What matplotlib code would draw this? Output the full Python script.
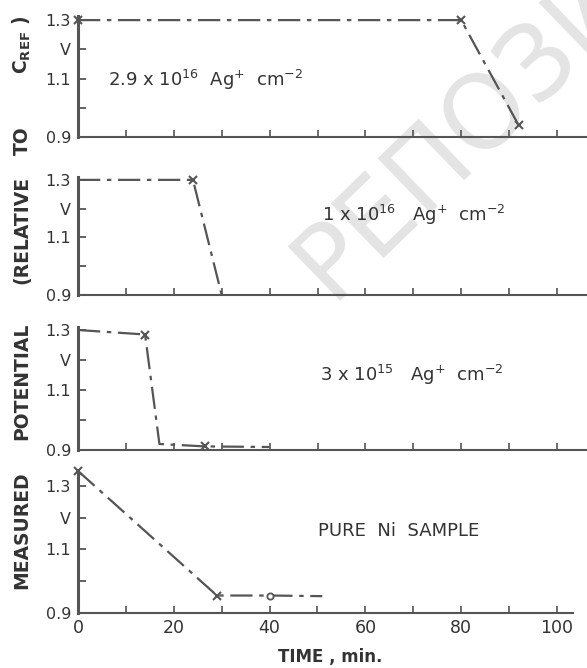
import numpy as np
import matplotlib
matplotlib.use("Agg")
import matplotlib.pyplot as plt

# --- Data ---
# time in min, potential in V
t_29e16 = [0, 80, 92]
v_29e16 = [1.30, 1.30, 0.94]
mk_29e16 = [0, 1, 2]          # indices drawn with an 'x'

t_1e16 = [0, 24, 30]
v_1e16 = [1.30, 1.30, 0.90]
mk_1e16 = [1]

t_3e15 = [0, 14, 17, 26.5, 40]
v_3e15 = [1.30, 1.285, 0.92, 0.912, 0.91]
mk_3e15 = [1, 3]

t_ni = [0, 29, 40, 51]
v_ni = [1.347, 0.955, 0.955, 0.953]
mk_ni = [0, 1]
circ_ni = [2]

labels = [r"2.9 x 10$^{16}$  Ag$^{+}$  cm$^{-2}$",
          r"1 x 10$^{16}$   Ag$^{+}$  cm$^{-2}$",
          r"3 x 10$^{15}$   Ag$^{+}$  cm$^{-2}$",
          "PURE  Ni  SAMPLE"]

xtick_vals = [0, 10, 20, 30, 40, 50, 60, 70, 80, 90, 100]
xtick_labels = ['0', '', '20', '', '40', '', '60', '', '80', '', '100']
ytick_vals = [0.9, 1.0, 1.1, 1.2, 1.3]
ytick_labels = ['0.9', '', '1.1', 'V', '1.3']

ylabel_words = ['MEASURED', 'POTENTIAL', '(RELATIVE', 'TO', r'C$_{\mathbf{REF}}$ )']

# --- Layout helpers (pixels of the 587x668 canvas) ---
W, H = 587, 668
PX_PER_MIN = 4.79
X0 = 78

def rect(left, right, top, bottom):
    return [left / W, 1 - bottom / H, (right - left) / W, (bottom - top) / H]

INK = '#333333'
LINE = '#555555'

fig = plt.figure(figsize=(W / 100, H / 100), dpi=100)

# faint diagonal watermark of the scan (runs off the top right, as in the scan)
fig.text(330 / W, 1 - 300 / H, 'РЕПОЗИТОРИЙ', fontsize=74, color='#e4e4e4',
         rotation=44, rotation_mode='anchor', ha='left', va='baseline',
         zorder=-1)

panels = [
    dict(t=t_29e16, v=v_29e16, mk=mk_29e16, circ=[], box=(587, 16, 137), ytop=1.314,
         lab=labels[0], lx=6.3, ly=1.095),
    dict(t=t_1e16, v=v_1e16, mk=mk_1e16, circ=[], box=(587, 177, 295), ytop=1.31,
         lab=labels[1], lx=50.9, ly=1.178),
    dict(t=t_3e15, v=v_3e15, mk=mk_3e15, circ=[], box=(587, 327, 450), ytop=1.31,
         lab=labels[2], lx=50.5, ly=1.15),
    dict(t=t_ni, v=v_ni, mk=mk_ni, circ=circ_ni, box=(573, 470, 613), ytop=1.35,
         lab=labels[3], lx=50.1, ly=1.159),
]

for i, p in enumerate(panels):
    right, top, bottom = p['box']
    ax = fig.add_axes(rect(X0, right, top, bottom))
    ax.patch.set_facecolor('none')
    ax.set_xlim(0, (right - X0) / PX_PER_MIN)
    ax.set_ylim(0.9, p['ytop'])

    t = np.array(p['t'])
    v = np.array(p['v'])
    ax.plot(t, v, color=LINE, lw=1.6, linestyle=(0, (10, 3, 2, 3)),
            clip_on=False, zorder=3)
    if p['mk']:
        ax.plot(t[p['mk']], v[p['mk']], 'x', color=LINE, ms=6, mew=1.5,
                clip_on=False, zorder=4)
    if p['circ']:
        ax.plot(t[p['circ']], v[p['circ']], 'o', color=LINE, mfc='white',
                ms=4.5, mew=1.3, clip_on=False, zorder=4)

    ax.text(p['lx'], p['ly'], p['lab'], fontsize=13, color=INK,
            ha='left', va='center')

    for s in ['top', 'right']:
        ax.spines[s].set_visible(False)
    ax.spines['left'].set_linewidth(2.2)
    ax.spines['bottom'].set_linewidth(1.5)
    ax.spines['left'].set_color(LINE)
    ax.spines['bottom'].set_color(LINE)

    ax.set_yticks(ytick_vals)
    ax.set_yticklabels(ytick_labels)
    ax.set_xticks(xtick_vals)
    if i == 3:
        ax.set_xticklabels(xtick_labels)
    else:
        ax.set_xticklabels([])
    ax.tick_params(axis='y', direction='in', length=6, width=1.3, color=LINE,
                   labelsize=11.5, labelcolor=INK, pad=5)
    ax.tick_params(axis='x', direction='in', length=5, width=1.2, color=LINE,
                   labelsize=12.5, labelcolor=INK, pad=4)

fig.text(330 / W, 1 - 657 / H, 'TIME , min.', fontsize=12, fontweight='bold',
         color=INK, ha='center', va='center')

word_y = [530, 381, 230, 141, 45]
for w, y in zip(ylabel_words, word_y):
    fig.text(22 / W, 1 - y / H, w, fontsize=13.5, fontweight='bold', color=INK,
             rotation=90, ha='center', va='center')

fig.savefig('out.png', dpi=100, facecolor='white')
